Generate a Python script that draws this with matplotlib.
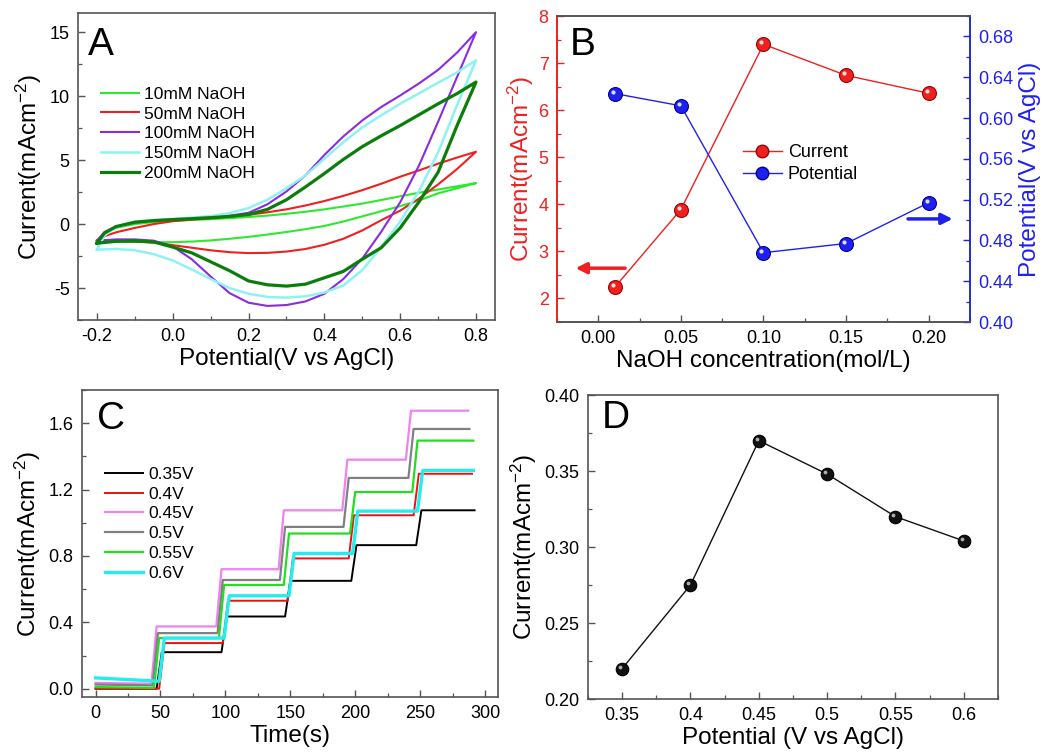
import matplotlib
matplotlib.use("Agg")
import matplotlib.pyplot as plt
from matplotlib.ticker import MultipleLocator, FixedLocator, FixedFormatter
from matplotlib.transforms import ScaledTranslation

plt.rcParams["font.family"] = ["Liberation Sans", "DejaVu Sans"]
plt.rcParams["mathtext.fontset"] = "custom"
plt.rcParams["mathtext.rm"] = "Liberation Sans"
plt.rcParams["mathtext.default"] = "regular"
plt.rcParams["axes.unicode_minus"] = False

# ---------------- panel A: cyclic voltammograms ----------------
potential_fwd = [-0.2, -0.18, -0.15, -0.1, -0.05, 0.0, 0.05, 0.1, 0.15, 0.2, 0.25,
                 0.3, 0.35, 0.4, 0.45, 0.5, 0.55, 0.6, 0.65, 0.7, 0.75, 0.8]
potential_rev = [0.75, 0.7, 0.65, 0.6, 0.55, 0.5, 0.45, 0.4, 0.35, 0.3, 0.25,
                 0.2, 0.15, 0.1, 0.05, 0.0, -0.05, -0.1, -0.15, -0.2]

cv_labels = ["10mM NaOH", "50mM NaOH", "100mM NaOH", "150mM NaOH", "200mM NaOH"]
cv_fwd = [
    [-1.3, -0.75, -0.3, 0.0, 0.15, 0.25, 0.32, 0.38, 0.46, 0.55, 0.66,
     0.8, 0.96, 1.15, 1.37, 1.6, 1.88, 2.17, 2.45, 2.7, 2.95, 3.2],
    [-1.3, -0.95, -0.65, -0.3, 0.0, 0.22, 0.35, 0.45, 0.58, 0.72, 0.92,
     1.15, 1.45, 1.8, 2.2, 2.65, 3.15, 3.7, 4.2, 4.72, 5.2, 5.65],
    [-1.3, -0.62, -0.2, 0.1, 0.28, 0.38, 0.45, 0.5, 0.65, 0.88, 1.55,
     2.55, 3.8, 5.4, 6.85, 8.1, 9.15, 10.05, 11.0, 12.05, 13.4, 15.0],
    [-2.0, -0.9, -0.25, 0.15, 0.3, 0.4, 0.5, 0.62, 0.85, 1.25, 1.9,
     2.8, 3.8, 5.1, 6.4, 7.55, 8.5, 9.4, 10.22, 11.05, 11.85, 12.8],
    [-1.5, -0.7, -0.2, 0.15, 0.27, 0.35, 0.42, 0.5, 0.6, 0.75, 1.15,
     1.9, 2.9, 3.95, 5.05, 6.05, 6.9, 7.7, 8.55, 9.4, 10.2, 11.1],
]
cv_rev = [
    [2.8, 2.4, 1.85, 1.4, 1.0, 0.6, 0.2, -0.15, -0.4, -0.62, -0.82,
     -1.0, -1.15, -1.28, -1.37, -1.42, -1.42, -1.4, -1.38, -1.3],
    [4.3, 3.1, 2.0, 1.05, 0.3, -0.5, -1.15, -1.62, -1.95, -2.15, -2.25,
     -2.27, -2.2, -2.05, -1.85, -1.65, -1.45, -1.35, -1.3, -1.3],
    [11.5, 8.0, 4.6, 1.7, -0.6, -2.7, -4.3, -5.45, -6.05, -6.33, -6.4,
     -6.15, -5.4, -4.1, -2.75, -1.75, -1.3, -1.2, -1.2, -1.3],
    [9.3, 5.6, 2.6, 0.2, -1.8, -3.6, -4.8, -5.35, -5.65, -5.75, -5.7,
     -5.45, -5.0, -4.3, -3.55, -2.85, -2.35, -2.05, -1.95, -2.0],
    [7.7, 4.05, 1.75, -0.3, -1.85, -2.75, -3.7, -4.2, -4.7, -4.85, -4.75,
     -4.45, -3.65, -2.95, -2.25, -1.8, -1.4, -1.32, -1.35, -1.5],
]
cv_colors = ["#2ee82e", "#ee2020", "#8a2be2", "#8ef2f2", "#0a7d0a"]
cv_widths = [1.5, 1.5, 1.5, 1.8, 2.3]

# ---------------- panel B: NaOH concentration ----------------
naoh_conc = [0.01, 0.05, 0.10, 0.15, 0.20]
peak_current = [2.24, 3.89, 7.40, 6.74, 6.36]
onset_potential = [0.624, 0.612, 0.468, 0.477, 0.517]

# ---------------- panel C: amperometric steps ----------------
step_labels = ["0.35V", "0.4V", "0.45V", "0.5V", "0.55V", "0.6V"]
step_colors = ["#000000", "#ee1010", "#ee82ee", "#808080", "#22dd22", "#22eeee"]
step_widths = [1.4, 1.4, 1.6, 1.6, 1.6, 2.4]
step_times = [
    [47, 97, 146, 197, 247],
    [49, 98, 148, 195, 245],
    [43, 93, 141, 190, 239],
    [44, 94, 142, 191, 241],
    [45, 95, 145, 196, 244],
    [49, 99, 149, 198, 248],
]
step_levels = [
    [0.0, 0.22, 0.435, 0.65, 0.865, 1.075],
    [0.0, 0.275, 0.53, 0.785, 1.045, 1.295],
    [0.03, 0.375, 0.72, 1.075, 1.38, 1.675],
    [0.02, 0.335, 0.655, 0.975, 1.27, 1.565],
    [0.005, 0.305, 0.625, 0.935, 1.185, 1.495],
    [0.045, 0.305, 0.56, 0.815, 1.07, 1.315],
]
step_start = [0.0, 0.0, 0.035, 0.025, 0.01, 0.065]
step_end = [292, 290, 287, 288, 291, 291]

# ---------------- panel D: applied potential ----------------
applied_potential = [0.35, 0.40, 0.45, 0.50, 0.55, 0.60]
step_current = [0.220, 0.275, 0.370, 0.348, 0.320, 0.304]
d_ticklabels = ["0.35", "0.4", "0.45", "0.5", "0.55", "0.6"]

SPINE = "#555555"
TICK_FS = 13
LABEL_FS = 17.5
LETTER_FS = 28
YLABEL = r"Current(mAcm$^{-2}$)"


def style(ax, right=False):
    for side in ["top", "right", "bottom", "left"]:
        ax.spines[side].set_color(SPINE)
        ax.spines[side].set_linewidth(1.2)
    ax.tick_params(which="both", direction="in", top=False, right=right,
                   color=SPINE, labelsize=TICK_FS, pad=6)
    ax.tick_params(which="major", length=5, width=1.0)
    ax.tick_params(which="minor", length=3, width=0.9)


def balls(ax, x, y, color, edge, size, hl="white", **kw):
    ax.plot(x, y, "o", ms=size, mfc=color, mec=edge, mew=0.8, zorder=4, **kw)
    off = ScaledTranslation(-2 / 100, 2 / 100, ax.figure.dpi_scale_trans)
    ax.plot(x, y, "o", ms=size * 0.3, mfc=hl, mec="none", alpha=0.85,
            transform=ax.transData + off, zorder=5, **kw)


fig = plt.figure(figsize=(10.44, 7.54), dpi=100)

# ---- A ----
axA = fig.add_axes([0.0747, 0.5756, 0.3994, 0.4072])
for lab, fw, rv, c, lw in zip(cv_labels, cv_fwd, cv_rev, cv_colors, cv_widths):
    axA.plot(potential_fwd + potential_rev, fw + rv, color=c, lw=lw, label=lab)
axA.set_xlim(-0.25, 0.85)
axA.set_ylim(-7.5, 16.5)
axA.xaxis.set_major_locator(MultipleLocator(0.2))
axA.xaxis.set_minor_locator(MultipleLocator(0.1))
axA.yaxis.set_major_locator(MultipleLocator(5))
axA.yaxis.set_minor_locator(MultipleLocator(2.5))
axA.xaxis.set_major_formatter(plt.FuncFormatter(lambda v, p: f"{v:.1f}"))
style(axA)
axA.set_xlabel("Potential(V vs AgCl)", fontsize=LABEL_FS, labelpad=2)
axA.set_ylabel(YLABEL, fontsize=LABEL_FS, labelpad=4)
axA.text(0.025, 0.895, "A", transform=axA.transAxes, fontsize=LETTER_FS, va="center")
axA.legend(loc="upper left", bbox_to_anchor=(0.025, 0.80), frameon=False,
           fontsize=12.5, handlelength=2.2, labelspacing=0.27, handletextpad=0.3,
           borderpad=0.2)

# ---- B ----
axB = fig.add_axes([0.5335, 0.5729, 0.3956, 0.4058])
axB2 = axB.twinx()
red, blue = "#ee2020", "#2020ee"
axB.plot(naoh_conc, peak_current, "-", color=red, lw=1.0)
axB2.plot(naoh_conc, onset_potential, "-", color=blue, lw=1.0)
balls(axB, naoh_conc, peak_current, red, "#a00000", 10)
balls(axB2, naoh_conc, onset_potential, blue, "#0000a0", 10)
axB.set_xlim(-0.025, 0.225)
axB.set_ylim(1.5, 8.0)
axB2.set_ylim(0.40, 0.70)
axB.xaxis.set_major_locator(MultipleLocator(0.05))
axB.xaxis.set_minor_locator(MultipleLocator(0.025))
axB.yaxis.set_major_locator(MultipleLocator(1))
axB.yaxis.set_minor_locator(MultipleLocator(0.5))
axB2.yaxis.set_major_locator(MultipleLocator(0.04))
axB2.yaxis.set_minor_locator(MultipleLocator(0.02))
axB.xaxis.set_major_formatter(plt.FuncFormatter(lambda v, p: f"{v:.2f}"))
axB2.yaxis.set_major_formatter(plt.FuncFormatter(lambda v, p: f"{v:.2f}"))
style(axB)
style(axB2, right=True)
axB2.tick_params(which="both", left=False)
axB.spines["left"].set_color(red)
axB2.spines["left"].set_color(red)
axB2.spines["right"].set_color(blue)
axB.tick_params(axis="y", which="both", colors=red)
axB2.tick_params(axis="y", which="both", colors=blue)
axB.set_xlabel("NaOH concentration(mol/L)", fontsize=LABEL_FS, labelpad=2)
axB.set_ylabel(YLABEL, fontsize=LABEL_FS, color=red, labelpad=2)
axB2.set_ylabel("Potential(V vs AgCl)", fontsize=LABEL_FS, color=blue, labelpad=4)
axB.text(0.03, 0.905, "B", transform=axB.transAxes, fontsize=LETTER_FS, va="center")
hc = axB.plot([], [], "-o", color=red, mfc=red, mec="#a00000", ms=9, lw=1.0)[0]
hp = axB.plot([], [], "-o", color=blue, mfc=blue, mec="#0000a0", ms=9, lw=1.0)[0]
axB.legend([hc, hp], ["Current", "Potential"], loc="upper left",
           bbox_to_anchor=(0.41, 0.635), frameon=False, fontsize=13,
           handlelength=2.2, labelspacing=0.3, handletextpad=0.3, numpoints=1)
axB.annotate("", xy=(0.045, 0.176), xytext=(0.165, 0.176), xycoords="axes fraction",
             arrowprops=dict(arrowstyle="-|>", color=red, lw=2.5, mutation_scale=16,
                             shrinkA=0, shrinkB=0))
axB.annotate("", xy=(0.958, 0.337), xytext=(0.85, 0.337), xycoords="axes fraction",
             arrowprops=dict(arrowstyle="-|>", color=blue, lw=2.5, mutation_scale=16,
                             shrinkA=0, shrinkB=0))

# ---- C ----
axC = fig.add_axes([0.0785, 0.0756, 0.3985, 0.4072])
rise = 4
for lab, c, lw, ts, lv, s0, te in zip(step_labels, step_colors, step_widths,
                                      step_times, step_levels, step_start, step_end):
    t = [0]
    cur = [s0]
    for i, tk in enumerate(ts):
        t += [tk, tk + rise]
        cur += [lv[i], lv[i + 1]]
    t.append(te)
    cur.append(lv[-1])
    axC.plot(t, cur, color=c, lw=lw, label=lab)
axC.set_xlim(-10.5, 310)
axC.set_ylim(-0.05, 1.80)
axC.xaxis.set_major_locator(MultipleLocator(50))
axC.xaxis.set_minor_locator(MultipleLocator(25))
axC.yaxis.set_major_locator(MultipleLocator(0.4))
axC.yaxis.set_minor_locator(MultipleLocator(0.2))
axC.yaxis.set_major_formatter(plt.FuncFormatter(lambda v, p: f"{v:.1f}"))
style(axC)
axC.set_xlabel("Time(s)", fontsize=LABEL_FS, labelpad=2)
axC.set_ylabel(YLABEL, fontsize=LABEL_FS, labelpad=4)
axC.text(0.035, 0.905, "C", transform=axC.transAxes, fontsize=LETTER_FS, va="center")
axC.legend(loc="upper left", bbox_to_anchor=(0.025, 0.79), frameon=False,
           fontsize=12.5, handlelength=2.2, labelspacing=0.27, handletextpad=0.3,
           borderpad=0.2)

# ---- D ----
axD = fig.add_axes([0.5632, 0.0729, 0.3927, 0.4032])
axD.plot(applied_potential, step_current, "-", color="#111111", lw=1.0)
balls(axD, applied_potential, step_current, "#111111", "#000000", 9, hl="#cccccc")
axD.set_xlim(0.325, 0.625)
axD.set_ylim(0.20, 0.40)
axD.xaxis.set_major_locator(FixedLocator(applied_potential))
axD.xaxis.set_major_formatter(FixedFormatter(d_ticklabels))
axD.xaxis.set_minor_locator(MultipleLocator(0.025))
axD.yaxis.set_major_locator(MultipleLocator(0.05))
axD.yaxis.set_minor_locator(MultipleLocator(0.025))
axD.yaxis.set_major_formatter(plt.FuncFormatter(lambda v, p: f"{v:.2f}"))
style(axD)
axD.set_xlabel("Potential (V vs AgCl)", fontsize=LABEL_FS, labelpad=2)
axD.set_ylabel(YLABEL, fontsize=LABEL_FS, labelpad=4)
axD.text(0.034, 0.924, "D", transform=axD.transAxes, fontsize=LETTER_FS, va="center")

fig.savefig("out.png", dpi=100)
